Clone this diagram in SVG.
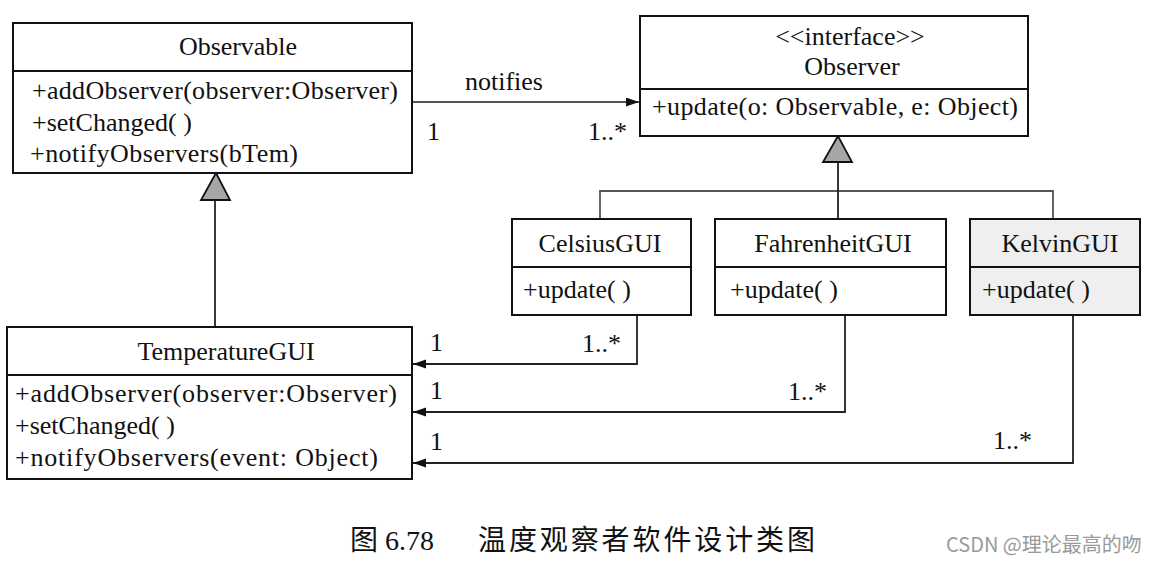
<svg xmlns="http://www.w3.org/2000/svg" width="1155" height="564" viewBox="0 0 1155 564">
<defs>
<style>
.box{fill:#fff;stroke:#111;stroke-width:2}
.div{stroke:#111;stroke-width:2}
.t{font-family:"Liberation Serif","Times New Roman",serif;font-size:26px;fill:#111}
.c{text-anchor:middle}
.conn{fill:none;stroke:#222;stroke-width:1.8}
.light{stroke:#555}
.gen{fill:#a6a6a6;stroke:#111;stroke-width:1.8;stroke-linejoin:miter}
.cap{font-family:"Liberation Serif","Noto Sans CJK SC",serif;font-size:28px;fill:#111}
.wm{font-family:"Noto Sans CJK SC","Liberation Sans",sans-serif;font-size:20px;fill:#9a9a9a}
</style>
<marker id="arr" markerUnits="userSpaceOnUse" markerWidth="14" markerHeight="10" refX="13" refY="4.5" orient="auto">
<path d="M0,0 L13,4.5 L0,9 z" fill="#111"/>
</marker>
</defs>
<rect width="1155" height="564" fill="#fff"/>

<g id="connectors">
<line class="conn light" x1="412" y1="102" x2="639" y2="102" marker-end="url(#arr)"/>
<line class="conn" x1="215" y1="327" x2="215" y2="200"/>
<polygon class="gen" points="216,173 201,200 230,200"/>
<path class="conn light" d="M600,219 V191 H1053 V219"/>
<line class="conn" x1="838" y1="219" x2="838" y2="162"/>
<polygon class="gen" points="838,136 823,162 852,162"/>
<path class="conn" d="M637,315 V364 H413" marker-end="url(#arr)"/>
<path class="conn" d="M845,315 V412 H413" marker-end="url(#arr)"/>
<path class="conn" d="M1073,315 V463 H413" marker-end="url(#arr)"/>
<text class="t" x="465" y="90">notifies</text>
<text class="t" x="427" y="140">1</text>
<text class="t" x="588" y="140">1..*</text>
<text class="t" x="430" y="351">1</text>
<text class="t" x="582" y="352">1..*</text>
<text class="t" x="430" y="399">1</text>
<text class="t" x="788" y="400">1..*</text>
<text class="t" x="430" y="450">1</text>
<text class="t" x="993" y="449">1..*</text>
</g>

<g id="Observable">
<rect class="box" x="13" y="23" width="399" height="150"/>
<line class="div" x1="13" y1="71" x2="412" y2="71"/>
<text class="t" x="179" y="55" font-size="25" textLength="118">Observable</text>
<text class="t" x="32" y="99" textLength="366">+addObserver(observer:Observer)</text>
<text class="t" x="32" y="131">+setChanged( )</text>
<text class="t" x="30" y="162" textLength="268">+notifyObservers(bTem)</text>
</g>

<g id="Observer">
<rect class="box" x="640" y="16" width="388" height="120"/>
<line class="div" x1="640" y1="89" x2="1028" y2="89"/>
<text class="t c" x="850" y="45" font-size="24">&lt;&lt;interface&gt;&gt;</text>
<text class="t c" x="852" y="75">Observer</text>
<text class="t" x="652" y="115" textLength="366">+update(o: Observable, e: Object)</text>
</g>

<g id="CelsiusGUI">
<rect class="box" x="512" y="219" width="179" height="96"/>
<line class="div" x1="512" y1="267" x2="691" y2="267"/>
<text class="t c" x="600" y="252">CelsiusGUI</text>
<text class="t" x="523" y="298">+update( )</text>
</g>

<g id="FahrenheitGUI">
<rect class="box" x="715" y="219" width="231" height="96"/>
<line class="div" x1="715" y1="267" x2="946" y2="267"/>
<text class="t c" x="833" y="252">FahrenheitGUI</text>
<text class="t" x="730" y="298">+update( )</text>
</g>

<g id="KelvinGUI">
<rect class="box" x="970" y="219" width="170" height="96" style="fill:#efefef"/>
<line class="div" x1="970" y1="267" x2="1140" y2="267"/>
<text class="t c" x="1060" y="252">KelvinGUI</text>
<text class="t" x="982" y="298">+update( )</text>
</g>

<g id="TemperatureGUI">
<rect class="box" x="7" y="327" width="405" height="152"/>
<line class="div" x1="7" y1="375" x2="412" y2="375"/>
<text class="t c" x="226" y="360" font-size="27">TemperatureGUI</text>
<text class="t" x="15" y="402" font-size="27.5" textLength="382">+addObserver(observer:Observer)</text>
<text class="t" x="15" y="434" font-size="27.5">+setChanged( )</text>
<text class="t" x="15" y="466" font-size="27.5" textLength="363">+notifyObservers(event: Object)</text>
</g>

<g id="caption">
<text class="cap" x="350" y="550">图 6.78</text>
<text class="cap" x="478" y="550" textLength="337">温度观察者软件设计类图</text>
<text class="wm" x="946" y="552">CSDN @理论最高的吻</text>
</g>
</svg>
